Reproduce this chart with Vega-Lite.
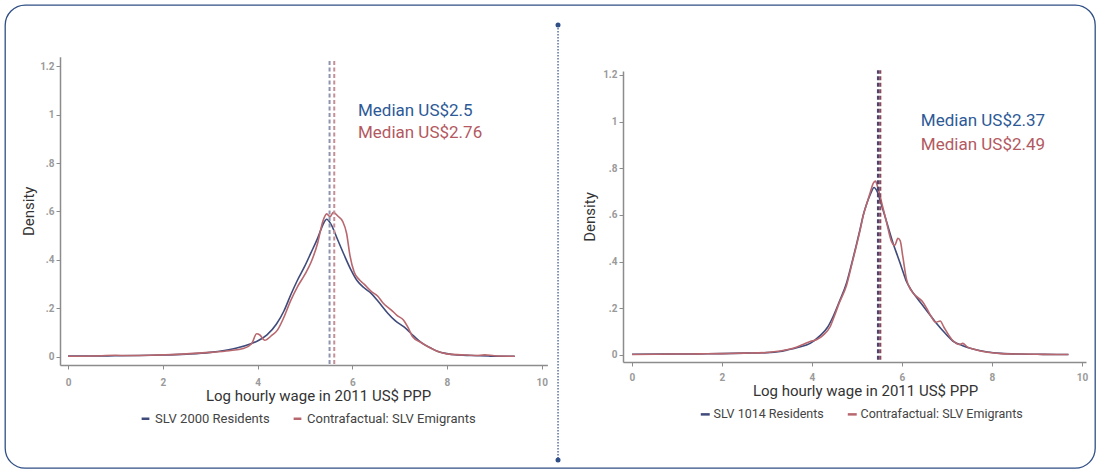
{
  "$schema": "https://vega.github.io/schema/vega-lite/v6.json",
  "width": 1090,
  "height": 463,
  "autosize": {"type": "none"},
  "padding": {"left": 5, "top": 5, "right": 5, "bottom": 6},
  "background": "white",
  "config": {
    "font": "Roboto",
    "view": {"stroke": "#2f4f86", "strokeWidth": 1.3, "cornerRadius": 20},
    "legend": {"labelLimit": 400},
    "axis": {
      "grid": false,
      "domainColor": "#8c8c8c",
      "domainWidth": 1.5,
      "tickColor": "#8c8c8c",
      "tickSize": 4,
      "labelFontSize": 10,
      "labelFontWeight": "bold",
      "labelColor": "#9a9a9a",
      "titleFontSize": 15,
      "titleFontWeight": "normal",
      "titleColor": "#333333",
      "titleFont": "Roboto"
    }
  },
  "datasets": {
    "left": [
      {"x":0,"y":0.003,"s":"SLV 2000 Residents"},{"x":0.5,"y":0.003,"s":"SLV 2000 Residents"},{"x":1,"y":0.004,"s":"SLV 2000 Residents"},{"x":1.5,"y":0.005,"s":"SLV 2000 Residents"},{"x":2,"y":0.007,"s":"SLV 2000 Residents"},{"x":2.5,"y":0.011,"s":"SLV 2000 Residents"},{"x":3,"y":0.018,"s":"SLV 2000 Residents"},{"x":3.3,"y":0.026,"s":"SLV 2000 Residents"},{"x":3.6,"y":0.038,"s":"SLV 2000 Residents"},{"x":3.86,"y":0.054,"s":"SLV 2000 Residents"},{"x":4,"y":0.065,"s":"SLV 2000 Residents"},{"x":4.2,"y":0.09,"s":"SLV 2000 Residents"},{"x":4.4,"y":0.135,"s":"SLV 2000 Residents"},{"x":4.56,"y":0.19,"s":"SLV 2000 Residents"},{"x":4.7,"y":0.255,"s":"SLV 2000 Residents"},{"x":4.84,"y":0.315,"s":"SLV 2000 Residents"},{"x":5,"y":0.375,"s":"SLV 2000 Residents"},{"x":5.13,"y":0.43,"s":"SLV 2000 Residents"},{"x":5.27,"y":0.49,"s":"SLV 2000 Residents"},{"x":5.38,"y":0.545,"s":"SLV 2000 Residents"},{"x":5.46,"y":0.568,"s":"SLV 2000 Residents"},{"x":5.55,"y":0.548,"s":"SLV 2000 Residents"},{"x":5.69,"y":0.484,"s":"SLV 2000 Residents"},{"x":5.83,"y":0.42,"s":"SLV 2000 Residents"},{"x":5.97,"y":0.36,"s":"SLV 2000 Residents"},{"x":6.1,"y":0.315,"s":"SLV 2000 Residents"},{"x":6.25,"y":0.285,"s":"SLV 2000 Residents"},{"x":6.4,"y":0.262,"s":"SLV 2000 Residents"},{"x":6.55,"y":0.228,"s":"SLV 2000 Residents"},{"x":6.75,"y":0.18,"s":"SLV 2000 Residents"},{"x":6.9,"y":0.15,"s":"SLV 2000 Residents"},{"x":7.1,"y":0.122,"s":"SLV 2000 Residents"},{"x":7.3,"y":0.085,"s":"SLV 2000 Residents"},{"x":7.46,"y":0.058,"s":"SLV 2000 Residents"},{"x":7.65,"y":0.037,"s":"SLV 2000 Residents"},{"x":7.81,"y":0.022,"s":"SLV 2000 Residents"},{"x":8,"y":0.013,"s":"SLV 2000 Residents"},{"x":8.16,"y":0.008,"s":"SLV 2000 Residents"},{"x":8.5,"y":0.005,"s":"SLV 2000 Residents"},{"x":8.87,"y":0.003,"s":"SLV 2000 Residents"},{"x":9.2,"y":0.002,"s":"SLV 2000 Residents"},{"x":9.43,"y":0.002,"s":"SLV 2000 Residents"},
      {"x":0,"y":0.002,"s":"Contrafactual: SLV Emigrants"},{"x":0.5,"y":0.003,"s":"Contrafactual: SLV Emigrants"},{"x":1,"y":0.006,"s":"Contrafactual: SLV Emigrants"},{"x":1.3,"y":0.005,"s":"Contrafactual: SLV Emigrants"},{"x":1.7,"y":0.006,"s":"Contrafactual: SLV Emigrants"},{"x":2,"y":0.008,"s":"Contrafactual: SLV Emigrants"},{"x":2.5,"y":0.012,"s":"Contrafactual: SLV Emigrants"},{"x":3,"y":0.018,"s":"Contrafactual: SLV Emigrants"},{"x":3.4,"y":0.025,"s":"Contrafactual: SLV Emigrants"},{"x":3.7,"y":0.034,"s":"Contrafactual: SLV Emigrants"},{"x":3.88,"y":0.055,"s":"Contrafactual: SLV Emigrants"},{"x":3.98,"y":0.095,"s":"Contrafactual: SLV Emigrants"},{"x":4.05,"y":0.09,"s":"Contrafactual: SLV Emigrants"},{"x":4.15,"y":0.068,"s":"Contrafactual: SLV Emigrants"},{"x":4.3,"y":0.088,"s":"Contrafactual: SLV Emigrants"},{"x":4.42,"y":0.11,"s":"Contrafactual: SLV Emigrants"},{"x":4.55,"y":0.16,"s":"Contrafactual: SLV Emigrants"},{"x":4.7,"y":0.232,"s":"Contrafactual: SLV Emigrants"},{"x":4.84,"y":0.288,"s":"Contrafactual: SLV Emigrants"},{"x":5,"y":0.34,"s":"Contrafactual: SLV Emigrants"},{"x":5.13,"y":0.39,"s":"Contrafactual: SLV Emigrants"},{"x":5.27,"y":0.47,"s":"Contrafactual: SLV Emigrants"},{"x":5.38,"y":0.56,"s":"Contrafactual: SLV Emigrants"},{"x":5.46,"y":0.59,"s":"Contrafactual: SLV Emigrants"},{"x":5.53,"y":0.578,"s":"Contrafactual: SLV Emigrants"},{"x":5.6,"y":0.596,"s":"Contrafactual: SLV Emigrants"},{"x":5.7,"y":0.58,"s":"Contrafactual: SLV Emigrants"},{"x":5.8,"y":0.558,"s":"Contrafactual: SLV Emigrants"},{"x":5.88,"y":0.51,"s":"Contrafactual: SLV Emigrants"},{"x":5.95,"y":0.42,"s":"Contrafactual: SLV Emigrants"},{"x":6.04,"y":0.35,"s":"Contrafactual: SLV Emigrants"},{"x":6.15,"y":0.318,"s":"Contrafactual: SLV Emigrants"},{"x":6.25,"y":0.3,"s":"Contrafactual: SLV Emigrants"},{"x":6.4,"y":0.27,"s":"Contrafactual: SLV Emigrants"},{"x":6.54,"y":0.25,"s":"Contrafactual: SLV Emigrants"},{"x":6.65,"y":0.222,"s":"Contrafactual: SLV Emigrants"},{"x":6.82,"y":0.194,"s":"Contrafactual: SLV Emigrants"},{"x":6.95,"y":0.17,"s":"Contrafactual: SLV Emigrants"},{"x":7.08,"y":0.152,"s":"Contrafactual: SLV Emigrants"},{"x":7.18,"y":0.12,"s":"Contrafactual: SLV Emigrants"},{"x":7.27,"y":0.084,"s":"Contrafactual: SLV Emigrants"},{"x":7.46,"y":0.058,"s":"Contrafactual: SLV Emigrants"},{"x":7.65,"y":0.036,"s":"Contrafactual: SLV Emigrants"},{"x":7.81,"y":0.022,"s":"Contrafactual: SLV Emigrants"},{"x":8,"y":0.012,"s":"Contrafactual: SLV Emigrants"},{"x":8.3,"y":0.008,"s":"Contrafactual: SLV Emigrants"},{"x":8.6,"y":0.005,"s":"Contrafactual: SLV Emigrants"},{"x":8.8,"y":0.008,"s":"Contrafactual: SLV Emigrants"},{"x":9,"y":0.004,"s":"Contrafactual: SLV Emigrants"},{"x":9.43,"y":0.002,"s":"Contrafactual: SLV Emigrants"}
    ],
    "right": [
      {"x":0,"y":0.003,"s":"SLV 1014 Residents"},{"x":1,"y":0.004,"s":"SLV 1014 Residents"},{"x":1.5,"y":0.005,"s":"SLV 1014 Residents"},{"x":2,"y":0.006,"s":"SLV 1014 Residents"},{"x":2.5,"y":0.008,"s":"SLV 1014 Residents"},{"x":3,"y":0.01,"s":"SLV 1014 Residents"},{"x":3.29,"y":0.015,"s":"SLV 1014 Residents"},{"x":3.44,"y":0.021,"s":"SLV 1014 Residents"},{"x":3.7,"y":0.033,"s":"SLV 1014 Residents"},{"x":3.96,"y":0.05,"s":"SLV 1014 Residents"},{"x":4.18,"y":0.083,"s":"SLV 1014 Residents"},{"x":4.35,"y":0.12,"s":"SLV 1014 Residents"},{"x":4.47,"y":0.165,"s":"SLV 1014 Residents"},{"x":4.6,"y":0.225,"s":"SLV 1014 Residents"},{"x":4.77,"y":0.31,"s":"SLV 1014 Residents"},{"x":4.9,"y":0.405,"s":"SLV 1014 Residents"},{"x":4.99,"y":0.475,"s":"SLV 1014 Residents"},{"x":5.07,"y":0.54,"s":"SLV 1014 Residents"},{"x":5.14,"y":0.6,"s":"SLV 1014 Residents"},{"x":5.22,"y":0.65,"s":"SLV 1014 Residents"},{"x":5.3,"y":0.69,"s":"SLV 1014 Residents"},{"x":5.38,"y":0.718,"s":"SLV 1014 Residents"},{"x":5.45,"y":0.7,"s":"SLV 1014 Residents"},{"x":5.55,"y":0.64,"s":"SLV 1014 Residents"},{"x":5.66,"y":0.57,"s":"SLV 1014 Residents"},{"x":5.8,"y":0.48,"s":"SLV 1014 Residents"},{"x":5.91,"y":0.42,"s":"SLV 1014 Residents"},{"x":6,"y":0.37,"s":"SLV 1014 Residents"},{"x":6.1,"y":0.315,"s":"SLV 1014 Residents"},{"x":6.2,"y":0.28,"s":"SLV 1014 Residents"},{"x":6.33,"y":0.245,"s":"SLV 1014 Residents"},{"x":6.45,"y":0.215,"s":"SLV 1014 Residents"},{"x":6.55,"y":0.19,"s":"SLV 1014 Residents"},{"x":6.77,"y":0.135,"s":"SLV 1014 Residents"},{"x":6.95,"y":0.095,"s":"SLV 1014 Residents"},{"x":7.13,"y":0.06,"s":"SLV 1014 Residents"},{"x":7.35,"y":0.04,"s":"SLV 1014 Residents"},{"x":7.6,"y":0.025,"s":"SLV 1014 Residents"},{"x":7.9,"y":0.013,"s":"SLV 1014 Residents"},{"x":8.2,"y":0.007,"s":"SLV 1014 Residents"},{"x":8.6,"y":0.004,"s":"SLV 1014 Residents"},{"x":9,"y":0.003,"s":"SLV 1014 Residents"},{"x":9.5,"y":0.002,"s":"SLV 1014 Residents"},{"x":9.7,"y":0.002,"s":"SLV 1014 Residents"},
      {"x":0,"y":0.002,"s":"Contrafactual: SLV Emigrants"},{"x":1,"y":0.004,"s":"Contrafactual: SLV Emigrants"},{"x":1.5,"y":0.005,"s":"Contrafactual: SLV Emigrants"},{"x":2,"y":0.006,"s":"Contrafactual: SLV Emigrants"},{"x":2.5,"y":0.008,"s":"Contrafactual: SLV Emigrants"},{"x":3,"y":0.011,"s":"Contrafactual: SLV Emigrants"},{"x":3.29,"y":0.017,"s":"Contrafactual: SLV Emigrants"},{"x":3.6,"y":0.03,"s":"Contrafactual: SLV Emigrants"},{"x":3.8,"y":0.045,"s":"Contrafactual: SLV Emigrants"},{"x":3.96,"y":0.058,"s":"Contrafactual: SLV Emigrants"},{"x":4.1,"y":0.065,"s":"Contrafactual: SLV Emigrants"},{"x":4.25,"y":0.085,"s":"Contrafactual: SLV Emigrants"},{"x":4.4,"y":0.12,"s":"Contrafactual: SLV Emigrants"},{"x":4.5,"y":0.168,"s":"Contrafactual: SLV Emigrants"},{"x":4.6,"y":0.22,"s":"Contrafactual: SLV Emigrants"},{"x":4.77,"y":0.3,"s":"Contrafactual: SLV Emigrants"},{"x":4.9,"y":0.4,"s":"Contrafactual: SLV Emigrants"},{"x":4.99,"y":0.47,"s":"Contrafactual: SLV Emigrants"},{"x":5.07,"y":0.535,"s":"Contrafactual: SLV Emigrants"},{"x":5.14,"y":0.598,"s":"Contrafactual: SLV Emigrants"},{"x":5.22,"y":0.65,"s":"Contrafactual: SLV Emigrants"},{"x":5.3,"y":0.7,"s":"Contrafactual: SLV Emigrants"},{"x":5.36,"y":0.735,"s":"Contrafactual: SLV Emigrants"},{"x":5.41,"y":0.745,"s":"Contrafactual: SLV Emigrants"},{"x":5.46,"y":0.72,"s":"Contrafactual: SLV Emigrants"},{"x":5.55,"y":0.652,"s":"Contrafactual: SLV Emigrants"},{"x":5.66,"y":0.567,"s":"Contrafactual: SLV Emigrants"},{"x":5.76,"y":0.49,"s":"Contrafactual: SLV Emigrants"},{"x":5.84,"y":0.47,"s":"Contrafactual: SLV Emigrants"},{"x":5.91,"y":0.5,"s":"Contrafactual: SLV Emigrants"},{"x":5.96,"y":0.49,"s":"Contrafactual: SLV Emigrants"},{"x":6.02,"y":0.42,"s":"Contrafactual: SLV Emigrants"},{"x":6.1,"y":0.325,"s":"Contrafactual: SLV Emigrants"},{"x":6.2,"y":0.278,"s":"Contrafactual: SLV Emigrants"},{"x":6.33,"y":0.25,"s":"Contrafactual: SLV Emigrants"},{"x":6.45,"y":0.23,"s":"Contrafactual: SLV Emigrants"},{"x":6.55,"y":0.2,"s":"Contrafactual: SLV Emigrants"},{"x":6.65,"y":0.165,"s":"Contrafactual: SLV Emigrants"},{"x":6.75,"y":0.14,"s":"Contrafactual: SLV Emigrants"},{"x":6.85,"y":0.146,"s":"Contrafactual: SLV Emigrants"},{"x":6.93,"y":0.12,"s":"Contrafactual: SLV Emigrants"},{"x":7.13,"y":0.062,"s":"Contrafactual: SLV Emigrants"},{"x":7.28,"y":0.045,"s":"Contrafactual: SLV Emigrants"},{"x":7.35,"y":0.05,"s":"Contrafactual: SLV Emigrants"},{"x":7.45,"y":0.035,"s":"Contrafactual: SLV Emigrants"},{"x":7.6,"y":0.025,"s":"Contrafactual: SLV Emigrants"},{"x":7.9,"y":0.012,"s":"Contrafactual: SLV Emigrants"},{"x":8.2,"y":0.006,"s":"Contrafactual: SLV Emigrants"},{"x":8.6,"y":0.004,"s":"Contrafactual: SLV Emigrants"},{"x":9,"y":0.003,"s":"Contrafactual: SLV Emigrants"},{"x":9.5,"y":0.002,"s":"Contrafactual: SLV Emigrants"},{"x":9.7,"y":0.002,"s":"Contrafactual: SLV Emigrants"}
    ]
  },
  "layer": [
    {
      "layer": [
        {
          "data": {"name": "left"},
          "mark": {"type": "line", "strokeWidth": 1.6, "interpolate": "monotone"},
          "encoding": {
            "x": {"field": "x", "type": "quantitative",
              "scale": {"domain": [-0.17, 10.12], "range": [55, 542.4], "nice": false, "zero": false},
              "axis": {"orient": "bottom", "offset": -103, "values": [0, 2, 4, 6, 8, 10], "format": "d", "title": "Log hourly wage in 2011 US$ PPP", "labelPadding": 8, "titlePadding": 1, "titleX": 313}},
            "y": {"field": "y", "type": "quantitative",
              "scale": {"domain": [-0.034, 1.239], "range": [360, 51.7], "nice": false, "zero": false},
              "axis": {"orient": "left", "offset": -55, "values": [0, 0.2, 0.4, 0.6, 0.8, 1, 1.2], "labelExpr": "datum.value == 0 ? '0' : datum.value < 1 ? '.' + format(datum.value * 10, '.0f') : format(datum.value, '.2~f')", "title": "Density", "labelPadding": 2, "titlePadding": 3}},
            "color": {"field": "s", "type": "nominal",
              "scale": {"domain": ["SLV 2000 Residents", "Contrafactual: SLV Emigrants"], "range": ["#3f4b7b", "#b8676e"]},
              "legend": {"orient": "none", "legendX": 134, "legendY": 407, "direction": "horizontal", "title": null, "symbolType": "stroke", "symbolSize": 60, "symbolStrokeWidth": 2.5, "labelFontSize": 13, "labelLimit": 400, "labelColor": "#444444", "columnPadding": 18, "labelOffset": 3, "padding": 0}}
          }
        },
        {
          "data": {"values": [{}]},
          "mark": {"type": "rule", "strokeWidth": 2, "strokeDash": [4, 2.5], "color": "#8f93ad"},
          "encoding": {"x": {"datum": 5.521}, "y": {"datum": -0.03}, "y2": {"datum": 1.225}}
        },
        {
          "data": {"values": [{}]},
          "mark": {"type": "rule", "strokeWidth": 2, "strokeDash": [4, 2.5], "color": "#c48f97"},
          "encoding": {"x": {"datum": 5.62}, "y": {"datum": -0.03}, "y2": {"datum": 1.225}}
        },
        {
          "data": {"values": [{}]},
          "mark": {"type": "text", "text": "Median US$2.5", "align": "left", "baseline": "middle", "fontSize": 17, "color": "#2d5a97"},
          "encoding": {"x": {"datum": 6.12}, "y": {"datum": 1.014}}
        },
        {
          "data": {"values": [{}]},
          "mark": {"type": "text", "text": "Median US$2.76", "align": "left", "baseline": "middle", "fontSize": 17, "color": "#b3595f"},
          "encoding": {"x": {"datum": 6.12}, "y": {"datum": 0.924}}
        }
      ]
    },
    {
      "layer": [
        {
          "data": {"name": "right"},
          "mark": {"type": "line", "strokeWidth": 1.6, "interpolate": "monotone"},
          "encoding": {
            "x": {"field": "x", "type": "quantitative",
              "scale": {"domain": [-0.2, 10.09], "range": [618, 1081], "nice": false, "zero": false},
              "axis": {"orient": "bottom", "offset": -106, "values": [0, 2, 4, 6, 8, 10], "format": "d", "title": "Log hourly wage in 2011 US$ PPP", "labelPadding": 6, "titlePadding": 1, "titleX": 860}},
            "y": {"field": "y", "type": "quantitative",
              "scale": {"domain": [-0.03, 1.217], "range": [357, 66], "nice": false, "zero": false},
              "axis": {"orient": "left", "offset": -618, "values": [0, 0.2, 0.4, 0.6, 0.8, 1, 1.2], "labelExpr": "datum.value == 0 ? '0' : datum.value < 1 ? '.' + format(datum.value * 10, '.0f') : format(datum.value, '.2~f')", "title": "Density", "labelPadding": 2, "titlePadding": 5}},
            "color": {"field": "s", "type": "nominal",
              "scale": {"domain": ["SLV 1014 Residents", "Contrafactual: SLV Emigrants"], "range": ["#3f4b7b", "#b8676e"]},
              "legend": {"orient": "none", "legendX": 694, "legendY": 403, "direction": "horizontal", "title": null, "symbolType": "stroke", "symbolSize": 80, "symbolStrokeWidth": 2.5, "labelFontSize": 12.5, "labelLimit": 400, "labelColor": "#444444", "columnPadding": 18, "labelOffset": 2, "padding": 0}}
          }
        },
        {
          "data": {"values": [{}]},
          "mark": {"type": "rule", "strokeWidth": 2.2, "strokeDash": [4, 2.5], "color": "#4a4470"},
          "encoding": {"x": {"datum": 5.468}, "y": {"datum": -0.02}, "y2": {"datum": 1.22}}
        },
        {
          "data": {"values": [{}]},
          "mark": {"type": "rule", "strokeWidth": 2.2, "strokeDash": [4, 2.5], "color": "#8a4a5a"},
          "encoding": {"x": {"datum": 5.517}, "y": {"datum": -0.02}, "y2": {"datum": 1.22}}
        },
        {
          "data": {"values": [{}]},
          "mark": {"type": "text", "text": "Median US$2.37", "align": "left", "baseline": "middle", "fontSize": 17, "color": "#2d5a97"},
          "encoding": {"x": {"datum": 6.42}, "y": {"datum": 1.003}}
        },
        {
          "data": {"values": [{}]},
          "mark": {"type": "text", "text": "Median US$2.49", "align": "left", "baseline": "middle", "fontSize": 17, "color": "#b3595f"},
          "encoding": {"x": {"datum": 6.42}, "y": {"datum": 0.9}}
        },
        {
          "data": {"values": [{}]},
          "mark": {"type": "rule", "strokeWidth": 1.2, "strokeDash": [1.5, 1.5], "color": "#2f4f86"},
          "encoding": {"x": {"datum": -1.644}, "y": {"datum": 1.414}, "y2": {"datum": -0.45}}
        },
        {
          "data": {"values": [{}]},
          "mark": {"type": "point", "filled": true, "size": 25, "opacity": 1, "color": "#2f4f86"},
          "encoding": {"x": {"datum": -1.644}, "y": {"datum": 1.414}}
        },
        {
          "data": {"values": [{}]},
          "mark": {"type": "point", "filled": true, "size": 25, "opacity": 1, "color": "#2f4f86"},
          "encoding": {"x": {"datum": -1.644}, "y": {"datum": -0.45}}
        }
      ]
    }
  ],
  "resolve": {
    "scale": {"x": "independent", "y": "independent", "color": "independent"},
    "axis": {"x": "independent", "y": "independent"},
    "legend": {"color": "independent"}
  }
}
